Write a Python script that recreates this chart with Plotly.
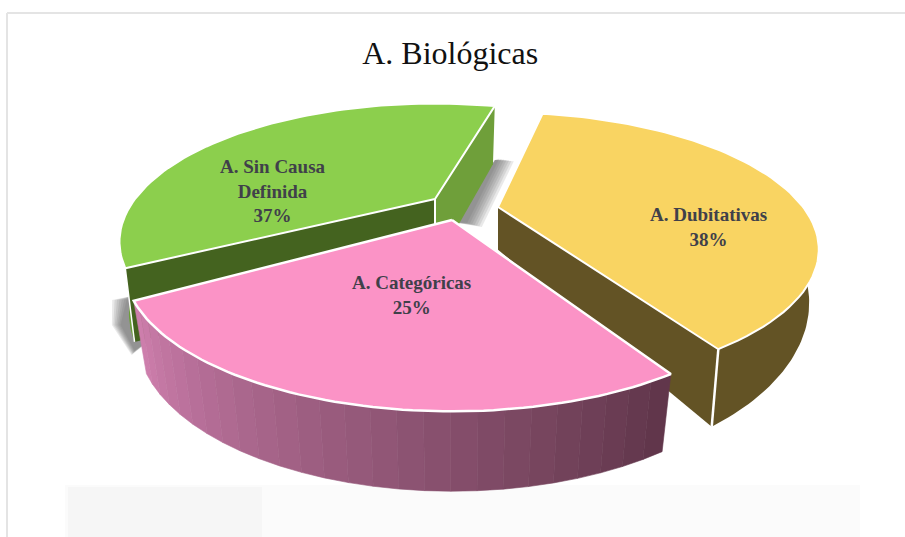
import math
import plotly.graph_objects as go

# ---- chart data ----
title = "A. Biológicas"
categories = ["A. Dubitativas", "A. Categóricas", "A. Sin Causa<br>Definida"]
values = [38, 25, 37]

colors_top = ["#F9D462", "#FB93C6", "#8CCF4D"]
TEXT = "#40404A"


def sweep(v):
    return 360.0 * v / sum(values)


def rim(w, deg):
    t = math.radians(deg)
    s = 1.0 / (1.0 + w["k"] * math.sin(t))
    return (w["cx"] + w["rx"] * math.cos(t) * s, w["cy"] - w["ry"] * math.sin(t) * s)


def low(w, p):
    return (w["cx"] + w["sx"] * (p[0] - w["cx"]), w["a"] + w["b"] * p[1])


def arc(w, d0, d1, n=70):
    return [rim(w, d0 + (d1 - d0) * i / n) for i in range(n + 1)]


fig = go.Figure()


def poly(pts, fill, line=None, width=0.0, opacity=1.0):
    xs = [p[0] for p in pts] + [pts[0][0]]
    ys = [p[1] for p in pts] + [pts[0][1]]
    fig.add_trace(go.Scatter(x=xs, y=ys, mode="lines", fill="toself", fillcolor=fill,
                             opacity=opacity, hoverinfo="skip", showlegend=False,
                             line=dict(color=line or fill, width=width)))


def seg(a, b, width=2.0):
    fig.add_trace(go.Scatter(x=[a[0], b[0]], y=[a[1], b[1]], mode="lines", hoverinfo="skip",
                             showlegend=False, line=dict(color="white", width=width)))


def mix(c0, c1, f):
    a = [int(c0[i:i + 2], 16) for i in (1, 3, 5)]
    b = [int(c1[i:i + 2], 16) for i in (1, 3, 5)]
    return "#%02x%02x%02x" % tuple(round(a[i] + (b[i] - a[i]) * f) for i in range(3))


yellow = dict(cx=498, cy=207, rx=305, ry=124, k=0.31, sx=0.97, a=-8, b=1.245)
pink = dict(cx=452, cy=220, rx=312, ry=132, k=0.31, sx=0.96, a=54, b=1.063)
green = dict(cx=435, cy=199, rx=300, ry=125, k=0.31, sx=0.97, a=48, b=1.096)

# wedge angles follow the values
y0 = 79.0
y1 = y0 - sweep(values[0])
p0 = -59.0
p1 = p0 - sweep(values[1])
g0 = 75.0
g1 = g0 + sweep(values[2])

# soft shadows
for i in range(7):
    grow = 2.4 * (7 - i)
    poly([(132, 296), (129 - grow, 300), (122 - grow * 0.6, 325), (135 - grow * 0.2, 350 + grow * 0.3), (150, 340)],
         "#555555", opacity=0.13)
    poly([(495, 160), (497 + grow, 158 + grow * 0.2), (465 + grow, 222 + grow * 0.3), (452, 222)],
         "#555555", opacity=0.13)

# green wedge
g_apex = (green["cx"], green["cy"])
g_side = arc(green, 180, g1, 30)
poly(g_side + [low(green, p) for p in reversed(g_side)], "#6A9F37")
a_back, a_left = rim(green, g0), rim(green, g1)
poly([g_apex, a_back, low(green, a_back), low(green, g_apex)], "#6F9F3A")
poly([g_apex, a_left, low(green, a_left), low(green, g_apex)], "#44631F")
seg(g_apex, low(green, g_apex))
seg(a_left, low(green, a_left), 1.5)
poly([g_apex] + arc(green, g0, g1), colors_top[2], "white", 2.0)

# yellow wedge
y_side = arc(yellow, 0, y1, 50)
poly(y_side + [low(yellow, p) for p in reversed(y_side)], "#635325")
y_apex = (yellow["cx"], yellow["cy"])
y_corner = rim(yellow, y1)
poly([y_apex, y_corner, low(yellow, y_corner), low(yellow, y_apex)], "#635325")
seg(y_corner, low(yellow, y_corner), 2.5)
poly([y_apex] + arc(yellow, y0, y1), colors_top[0], "white", 2.0)

# pink wedge, banded side
bands = 26
for i in range(bands):
    d0 = p1 + (p0 - p1) * i / bands
    d1 = p1 + (p0 - p1) * (i + 1) / bands
    top = arc(pink, d0, d1, 4)
    c = mix("#CF7FAE", "#5F3549", (i + 0.5) / bands)
    poly(top + [low(pink, q) for q in reversed(top)], c, c, 0.6)
poly([(pink["cx"], pink["cy"])] + arc(pink, p0, p1), colors_top[1], "white", 2.5)

# slice labels
labels_at = [(708, 227), (411, 295), (273, 191)]
annotations = []
for name, v, (lx, ly) in zip(categories, values, labels_at):
    annotations.append(dict(x=lx, y=ly, xref="x", yref="y", showarrow=False, align="center",
                            text=f"<b>{name}<br>{v}%</b>",
                            font=dict(family="Liberation Serif", size=19, color=TEXT)))
# faint watermark along the bottom
annotations.append(dict(x=615, y=556, xref="x", yref="y", showarrow=False, text="<b>UNIVERSITAS</b>",
                        font=dict(family="Liberation Sans", size=76, color="#EFEFEF")))

shapes = [
    dict(type="rect", x0=65, x1=860, y0=485, y1=537, line_width=0, fillcolor="#FBFBFB", layer="below"),
    dict(type="rect", x0=68, x1=262, y0=487, y1=537, line_width=0, fillcolor="#F6F6F6", layer="below"),
    dict(type="line", x0=7, x1=7, y0=13, y1=537, line=dict(color="#E4E4E4", width=2), layer="below"),
    dict(type="line", x0=7, x1=905, y0=13, y1=13, line=dict(color="#E4E4E4", width=2), layer="below"),
]

fig.update_layout(
    width=905, height=537, margin=dict(l=0, r=0, t=0, b=0),
    paper_bgcolor="white", plot_bgcolor="white", showlegend=False,
    title=dict(text=title, x=0.4975, xanchor="center", y=0.902, yanchor="middle",
               font=dict(family="Liberation Serif", size=32, color="#111111")),
    xaxis=dict(range=[0, 905], visible=False, fixedrange=True),
    yaxis=dict(range=[537, 0], visible=False, fixedrange=True),
    annotations=annotations, shapes=shapes,
)
fig.write_html("out.html", post_script="document.body.style.margin='0';",
               config={"displayModeBar": False})
